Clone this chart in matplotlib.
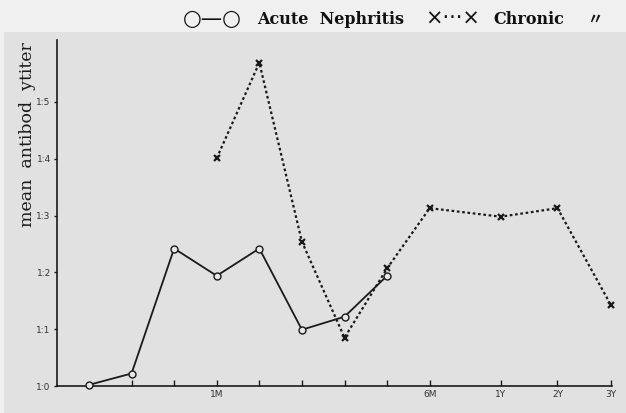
import matplotlib
matplotlib.use("Agg")
from matplotlib import pyplot as plt
from matplotlib.patches import Rectangle

# time points (tick units), titer values
acute_x = [1, 2, 3, 4, 5, 6, 7, 8]
acute_y = [0.02, 0.22, 2.42, 1.94, 2.42, 0.99, 1.22, 1.94]

chronic_x = [4, 5, 6, 7, 8, 9, 10.67, 12, 13.25]
chronic_y = [4.01, 5.69, 2.54, 0.85, 2.07, 3.13, 2.98, 3.13, 1.43]

xtick_pos = [2, 3, 4, 5, 6, 7, 8, 9, 10.67, 12, 13.25]
xtick_lab = ["", "", "1M", "", "", "", "", "6M", "1Y", "2Y", "3Y"]
ytick_pos = [0, 1, 2, 3, 4, 5]
ytick_lab = ["1:0", "1:1", "1:2", "1:3", "1:4", "1:5"]

W, H = 626, 413
fig = plt.figure(figsize=(W / 100, H / 100), dpi=100)
fig.patch.set_facecolor("#f0f0f0")
# page area below the caption strip
fig.patches.append(Rectangle((4 / W, 0), 1, (H - 32) / H, transform=fig.transFigure,
                             facecolor="#e1e1e1", edgecolor="none", zorder=-1))

ax = fig.add_axes([57 / W, 27 / H, (612 - 57) / W, (386 - 40) / H])
ax.set_zorder(2)
ax.set_facecolor("none")

ax.plot(acute_x, acute_y, "-", color="#1a1a1a", lw=1.3, marker="o", ms=5,
        mfc="#e8e8e8", mec="#1a1a1a", mew=1.0, clip_on=False, zorder=3)
ax.plot(chronic_x, chronic_y, linestyle=(0, (1.2, 1.2)), color="#1a1a1a", lw=1.6,
        marker="x", ms=5, mew=1.6, clip_on=False, zorder=3)

ax.set_xlim(0.25, 13.28)
ax.set_ylim(0, 6.09)

for s in ["top", "right"]:
    ax.spines[s].set_visible(False)
for s in ["left", "bottom"]:
    ax.spines[s].set_linewidth(1.2)
    ax.spines[s].set_color("#1a1a1a")

ax.set_xticks(xtick_pos)
ax.set_xticklabels(xtick_lab, fontsize=6.5, color="#333333")
ax.tick_params(axis="x", direction="in", length=4, width=1, color="#1a1a1a", pad=3)
ax.set_yticks(ytick_pos)
ax.set_yticklabels(ytick_lab, fontsize=6.5, color="#333333")
ax.tick_params(axis="y", direction="out", length=2.5, width=1, color="#1a1a1a", pad=2)

fig.text(28 / W, 1 - 135 / H, "mean  antibod  ytiter", rotation=90, ha="center", va="center",
         family="DejaVu Serif", fontsize=12.5, color="#1a1a1a")

# legend line across the top
leg_y = 1 - 19 / H
fig.text(183 / W, leg_y, "○—○", ha="left", va="center", fontsize=15.5,
         family="DejaVu Sans", color="#111111")
fig.text(257 / W, leg_y, "Acute  Nephritis", ha="left", va="center", fontsize=11.5,
         family="DejaVu Serif", weight="bold", color="#111111")
fig.text(425 / W, leg_y, "×···×", ha="left", va="center", fontsize=15,
         family="DejaVu Sans", color="#111111")
fig.text(493 / W, leg_y, "Chronic", ha="left", va="center", fontsize=11.5,
         family="DejaVu Serif", weight="bold", color="#111111")
fig.text(587 / W, leg_y, "〃", ha="left", va="center", fontsize=11,
         family=["DejaVu Sans", "Noto Sans CJK JP"], weight="bold", color="#111111")

fig.savefig("out.png", dpi=100, facecolor=fig.get_facecolor())
